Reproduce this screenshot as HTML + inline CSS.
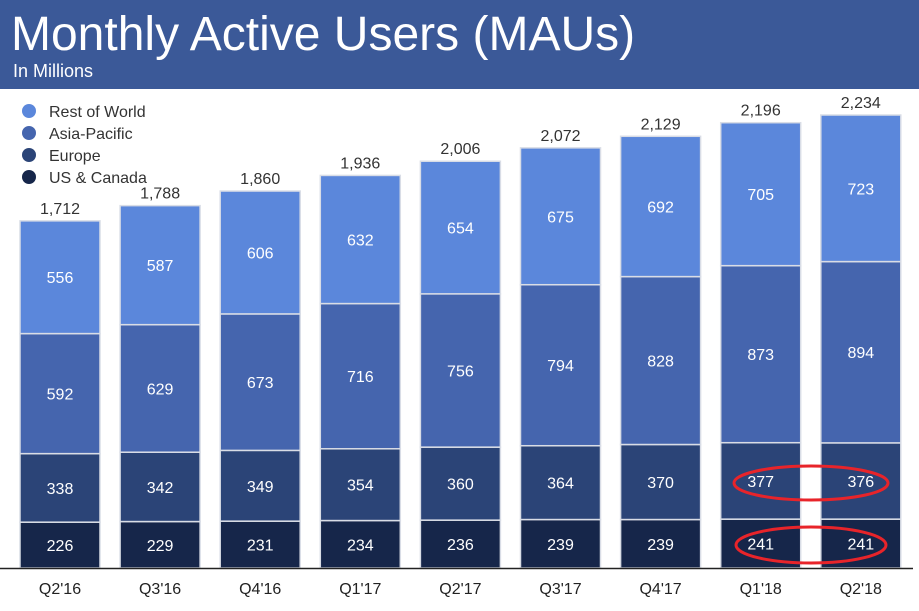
<!DOCTYPE html>
<html><head><meta charset="utf-8"><style>
body{margin:0;width:919px;height:606px;overflow:hidden;background:#fff;font-family:"Liberation Sans",sans-serif}
</style></head><body>
<svg width="919" height="606" xmlns="http://www.w3.org/2000/svg">
<rect x="0" y="0" width="919" height="89" fill="#3b5998"/>
<text x="11" y="50" fill="#fff" font-size="48">Monthly Active Users (MAUs)</text>
<text x="13" y="77" fill="#fff" font-size="18">In Millions</text>
<g id="legend"></g>
<g id="bars"></g>
<line x1="0" y1="568.5" x2="913" y2="568.5" stroke="#222" stroke-width="1.5"/>
<ellipse cx="811" cy="483" rx="77" ry="17" fill="none" stroke="#e8242a" stroke-width="3"/>
<ellipse cx="811" cy="545" rx="75" ry="18" fill="none" stroke="#e8242a" stroke-width="3"/>
</svg>
<script>
const categories=["Q2'16","Q3'16","Q4'16","Q1'17","Q2'17","Q3'17","Q4'17","Q1'18","Q2'18"];
const usCanada=[226,229,231,234,236,239,239,241,241];
const europe=[338,342,349,354,360,364,370,377,376];
const asiaPacific=[592,629,673,716,756,794,828,873,894];
const restOfWorld=[556,587,606,632,654,675,692,705,723];
const totals=[1712,1788,1860,1936,2006,2072,2129,2196,2234];
const seriesNames=["US & Canada","Europe","Asia-Pacific","Rest of World"];
const NS="http://www.w3.org/2000/svg";
const colors=["#16264a","#2b4477","#4565ae","#5b87db"];
const base=568, k=453/2234;
const y=v=>base-v*k;
const xc=i=>60+i*100.1;
const g=document.getElementById('bars');
function mk(t,a,p){const e=document.createElementNS(NS,t);for(const n in a)e.setAttribute(n,a[n]);p.appendChild(e);return e;}
const series=[usCanada,europe,asiaPacific,restOfWorld];
const keys=["us-canada","europe","asia-pacific","rest-of-world"];
categories.forEach((c,i)=>{
  let cum=0;
  series.forEach((s,j)=>{
    const v=s[i];
    const r=mk('rect',{x:xc(i)-40,y:y(cum+v),width:80,height:v*k,fill:colors[j],stroke:"#d9dde6","stroke-width":1.5},g);
    
    
    const t=mk('text',{x:xc(i),y:y(cum+v/2)+6,"text-anchor":"middle",fill:"#fff","font-size":16},g);
    t.textContent=v;
    
    
    cum+=v;
  });
  const tt=mk('text',{x:xc(i),y:y(totals[i])-7,"text-anchor":"middle",fill:"#333","font-size":16},g);
  tt.textContent=totals[i].toLocaleString('en-US');
  
  
  const xl=mk('text',{x:xc(i),y:594,"text-anchor":"middle",fill:"#222","font-size":16},g);
  xl.textContent=c;
  
  
});
const lg=document.getElementById('legend');
[3,2,1,0].forEach((j,n)=>{
  const cy=111+n*22;
  const c=mk('circle',{cx:29,cy:cy,r:7,fill:colors[j]},lg);
  
  
  const t=mk('text',{x:49,y:cy+6,fill:"#333","font-size":16},lg);
  t.textContent=seriesNames[j];
  
  
});
</script>
</body></html>
